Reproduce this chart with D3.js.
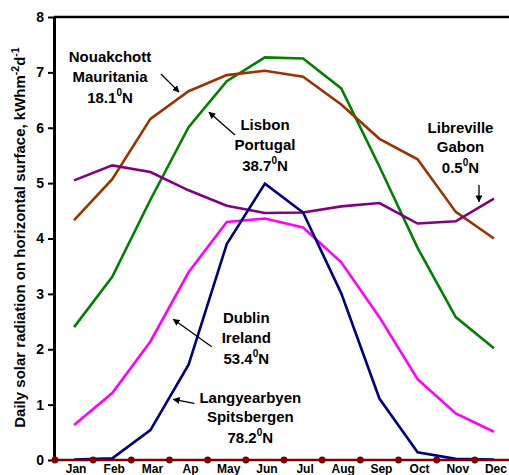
<!DOCTYPE html>
<html>
<head>
<meta charset="utf-8">
<script src="https://cdn.jsdelivr.net/npm/d3@7"></script>
<style>
html,body{margin:0;padding:0;background:#fff;}
svg{display:block;font-family:"Liberation Sans",Arial,sans-serif;}
</style>
</head>
<body>
<svg id="chart" width="509" height="475"></svg>
<script>
// ---- data ----
const months = ["Jan","Feb","Mar","Ap","May","Jun","Jul","Aug","Sep","Oct","Nov","Dec"];
const lisbon       = [2.40,3.31,4.70,6.01,6.84,7.27,7.25,6.71,5.30,3.83,2.58,2.02];
const nouakchott   = [4.33,5.07,6.16,6.66,6.95,7.03,6.92,6.42,5.80,5.43,4.48,4.00];
const libreville   = [5.05,5.32,5.20,4.87,4.59,4.46,4.47,4.58,4.64,4.27,4.31,4.72];
const dublin       = [0.63,1.21,2.14,3.39,4.30,4.36,4.20,3.57,2.58,1.46,0.84,0.51];
const langyearbyen = [0.01,0.03,0.54,1.72,3.90,4.99,4.47,3.01,1.11,0.14,0.02,0.01];
const yTicks = [0,1,2,3,4,5,6,7,8];

const series = [
  {name:"Lisbon", values:lisbon, color:"#008000"},
  {name:"Nouakchott", values:nouakchott, color:"#993300"},
  {name:"Libreville", values:libreville, color:"#800080"},
  {name:"Dublin", values:dublin, color:"#FF00FF"},
  {name:"Langyearbyen", values:langyearbyen, color:"#000080"}
];

// annotations in data space: m = month index position, v = value
const annotations = [
  {lines:["Nouakchott","Mauritania",["18.1","0","N"]], m:0.941, v:7.187, from:[2.277,6.971], to:[2.749,6.646]},
  {lines:["Lisbon","Portugal",["38.7","0","N"]], m:5.002, v:5.959, from:[4.216,5.869], to:[3.535,6.279]},
  {lines:["Libreville","Gabon",["0.5","0","N"]], m:10.124, v:5.911, from:[10.609,4.966], to:[10.609,4.665]},
  {lines:["Dublin","Ireland",["53.4","0","N"]], m:4.512, v:2.469, from:[3.606,2.046], to:[2.600,2.541]},
  {lines:["Langyearbyen","Spitsbergen",["78.2","0","N"]], m:4.617, v:1.035, from:[3.150,1.024], to:[2.600,1.096]}
];

// ---- layout ----
const W = 509, H = 475;
const mLeft = 54, mTop = 17, mBottom = 460, plotRight = 513;

const svg = d3.select("#chart");

const x = d3.scaleBand().domain(months).range([55, plotRight]).paddingInner(0).paddingOuter(0);
const bw = x.bandwidth();
const xm = d3.scaleLinear().domain([0, months.length-1])
  .range([x(months[0]) + bw/2, x(months[months.length-1]) + bw/2]);
const y = d3.scaleLinear().domain([0, 8]).range([mBottom, mTop]);

// arrow marker
const defs = svg.append("defs");
defs.append("marker").attr("id","arr").attr("viewBox","0 0 10 10")
  .attr("refX",9).attr("refY",5).attr("markerWidth",7).attr("markerHeight",7)
  .attr("markerUnits","userSpaceOnUse").attr("orient","auto")
  .append("path").attr("d","M0,0 L10,5 L0,10 Z").attr("fill","#000");

// top border
svg.append("line").attr("x1",mLeft).attr("x2",W).attr("y1",y(8)).attr("y2",y(8))
  .attr("stroke","#000").attr("stroke-width",2.6);

// lines
const line = d3.line().x((d,i)=>x(months[i]) + bw/2).y(d=>y(d));
series.forEach(s=>{
  svg.append("path").datum(s.values).attr("d",line)
    .attr("fill","none").attr("stroke",s.color).attr("stroke-width",2.6)
    .attr("stroke-linejoin","miter");
});

// y axis
const yAxis = d3.axisLeft(y).tickValues(yTicks).tickFormat(d3.format("d"))
  .tickSize(6).tickSizeOuter(0).tickPadding(4);
const gy = svg.append("g").attr("transform",`translate(${mLeft},0)`).call(yAxis);
gy.select(".domain").attr("stroke","#000").attr("stroke-width",3);
gy.selectAll(".tick line").attr("stroke","#000").attr("stroke-width",2);
gy.selectAll(".tick text").attr("fill","#000").style("font-size","14px").style("font-weight","bold")
  .style("font-family","'Liberation Sans',Arial,sans-serif");

// x axis (dark red line with dots at category boundaries)
svg.append("line").attr("x1",mLeft).attr("x2",W).attr("y1",y(0)).attr("y2",y(0))
  .attr("stroke","#800000").attr("stroke-width",2.6);
const bounds = months.map(m=>x(m)).concat([x(months[months.length-1])+bw]);
svg.selectAll("circle.bd").data(bounds).enter().append("circle")
  .attr("class","bd").attr("cx",d=>d).attr("cy",y(0)).attr("r",3.4).attr("fill","#800000");

svg.selectAll("text.mon").data(months).enter().append("text")
  .attr("class","mon").attr("x",d=>x(d)+bw/2+2).attr("y",473)
  .attr("text-anchor","middle").style("font-size","12px").style("font-weight","bold")
  .text(d=>d);

// y title
const yt = svg.append("text").attr("transform",`translate(25,237.5) rotate(-90)`)
  .attr("text-anchor","middle").style("font-size","15px").style("font-weight","bold");
yt.append("tspan").text("Daily solar radiation on horizontal surface, kWhm");
yt.append("tspan").attr("dy",-6).style("font-size","10.5px").text("-2");
yt.append("tspan").attr("dy",6).text("d");
yt.append("tspan").attr("dy",-6).style("font-size","10.5px").text("-1");

// annotations
const lineOffsets = [0, 19.5, 40.5];
annotations.forEach(a=>{
  const cx = xm(a.m), by = y(a.v);
  a.lines.forEach((ln,i)=>{
    const t = svg.append("text").attr("x",cx).attr("y",by+lineOffsets[i])
      .attr("text-anchor","middle").style("font-size","15px").style("font-weight","bold");
    if (Array.isArray(ln)) {
      t.append("tspan").text(ln[0]);
      t.append("tspan").attr("dy",-7).style("font-size","10px").text(ln[1]);
      t.append("tspan").attr("dy",7).text(ln[2]);
    } else t.text(ln);
  });
  svg.append("line").attr("x1",xm(a.from[0])).attr("y1",y(a.from[1]))
    .attr("x2",xm(a.to[0])).attr("y2",y(a.to[1]))
    .attr("stroke","#000").attr("stroke-width",1.3).attr("marker-end","url(#arr)");
});
</script>
</body>
</html>
